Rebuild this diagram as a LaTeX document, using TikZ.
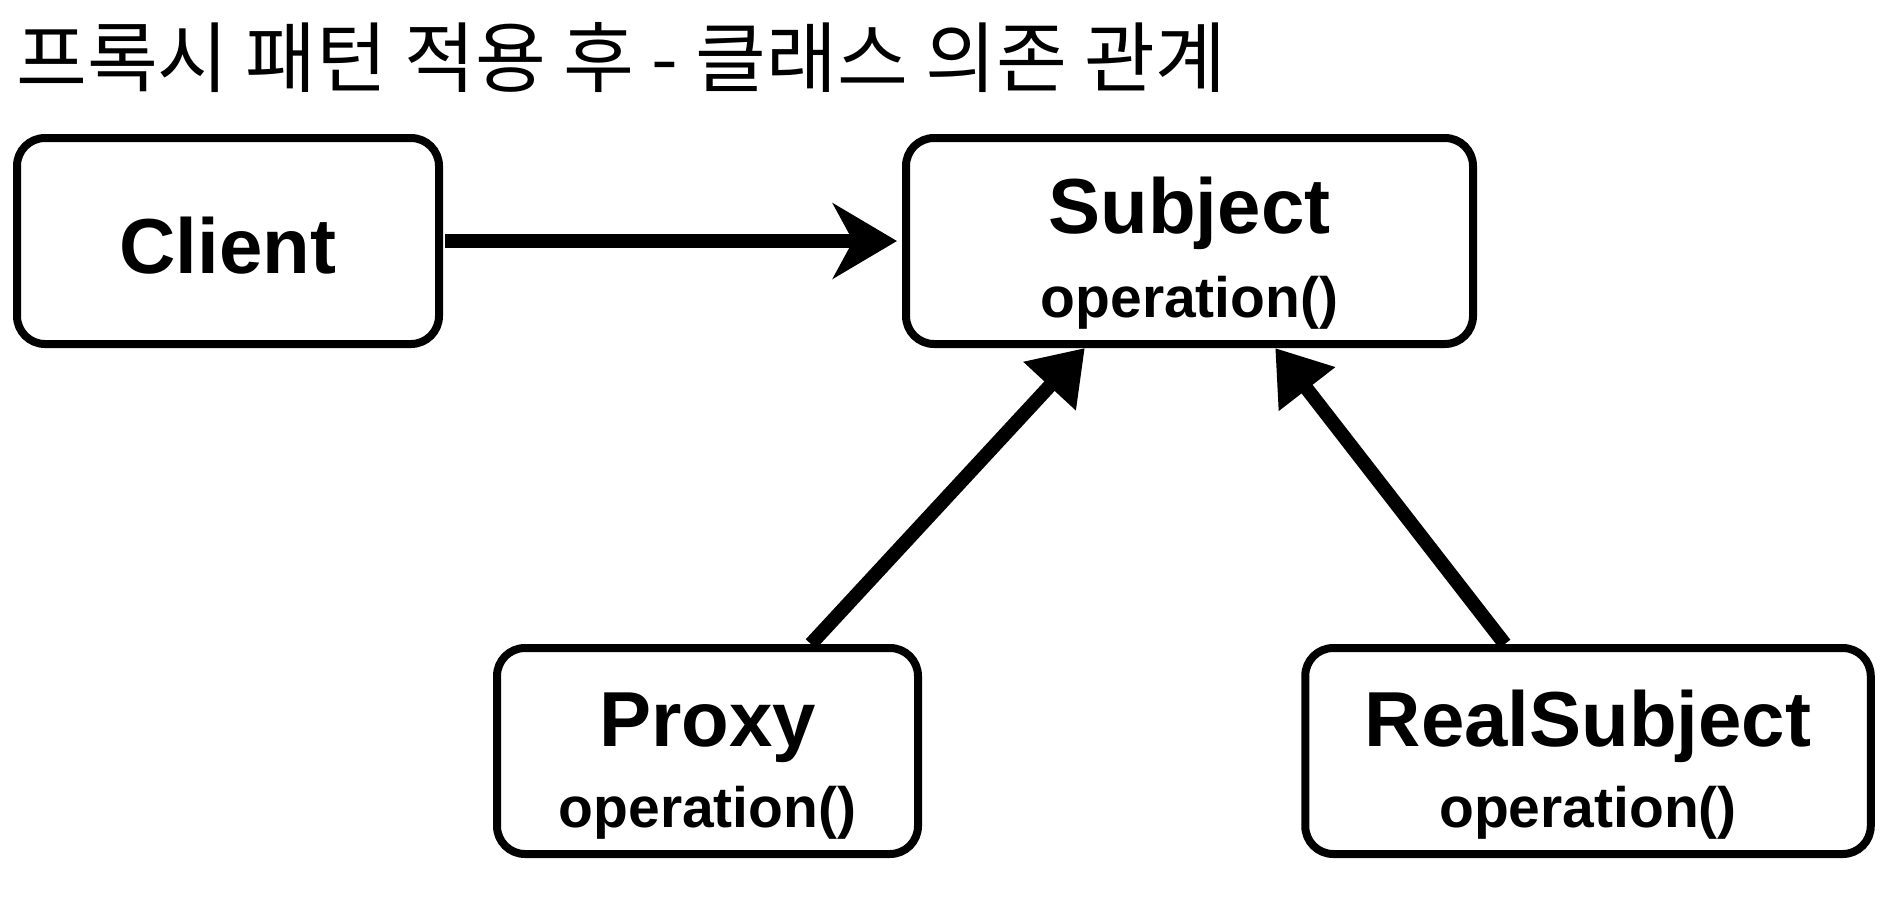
\documentclass[tikz,border=0pt]{standalone}
\usepackage{fontspec}
\setmainfont{Liberation Sans}
\newfontfamily\krfont{Noto Sans CJK KR}
\usetikzlibrary{arrows.meta,calc}
\begin{document}
\begin{tikzpicture}[x=1pt,y=-1pt,
  box/.style={draw, line width=8pt, rounded corners=28pt, minimum width=#1, minimum height=206pt, inner sep=0pt},
  clsname/.style={font=\bfseries\fontsize{78}{80}\selectfont, anchor=base, inner sep=0pt},
  opname/.style={font=\bfseries\fontsize{57}{60}\selectfont, anchor=base, inner sep=0pt},
  conn/.style={line width=14pt}]
\useasboundingbox[fill=white] (0,0) rectangle (1892,898);
\node[font=\krfont\fontsize{77}{80}\selectfont, anchor=base west, inner sep=0pt] (title) at (16,86) {프록시 패턴 적용 후 - 클래스 의존 관계};
\node[box=422pt] (client) at (228,241) {};
\node[box=567pt] (subject) at (1189.5,241) {};
\node[box=421pt] (proxy) at (707.5,751) {};
\node[box=565.5pt] (real) at (1588,751) {};
\node[clsname] (clientname) at (228,273) {Client};
\node[clsname] (subjectname) at (1189.5,233) {Subject};
\node[opname] (subjectop) at (1189.5,317) {operation()};
\node[clsname] (proxyname) at (707.5,746) {Proxy};
\node[opname] (proxyop) at (707.5,827) {operation()};
\node[clsname] (realname) at (1588,746) {RealSubject};
\node[opname] (realop) at (1588,827) {operation()};
\draw[conn, shorten <=2pt, shorten >=5pt, -{Stealth[length=64pt,width=75pt,inset=20pt]}] (client.east) -- (subject.west);
\draw[conn, -{Triangle[length=52pt,width=68pt]}] ($(proxy.north west)!0.741!(proxy.north east)$) -- ($(subject.south west)!0.318!(subject.south east)$);
\draw[conn, -{Triangle[length=52pt,width=68pt]}] ($(real.north west)!0.355!(real.north east)$) -- ($(subject.south west)!0.649!(subject.south east)$);
\end{tikzpicture}
\end{document}
